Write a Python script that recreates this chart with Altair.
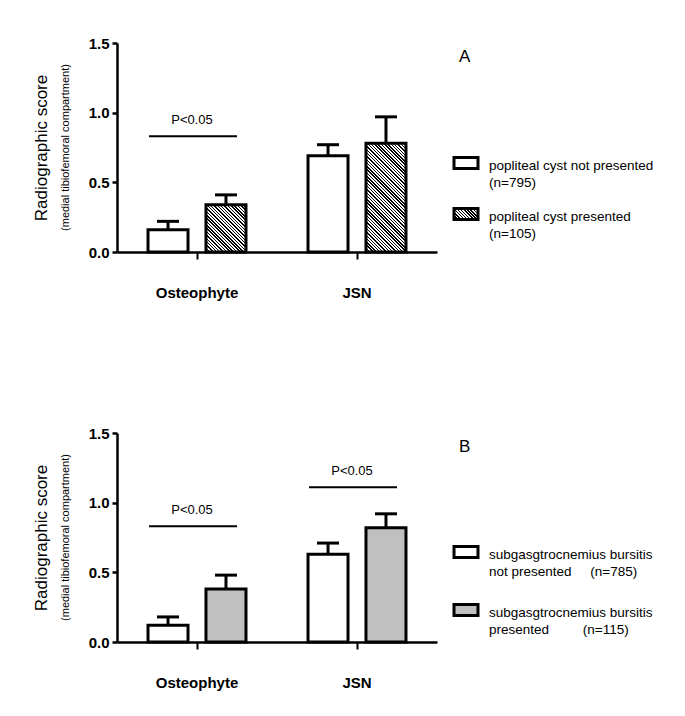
import altair as alt
import pandas as pd

# ---------------- data ----------------
groups = ["Osteophyte", "JSN"]
series = ["not presented", "presented"]

a_not = [0.16, 0.69]
a_not_err = [0.22, 0.77]
a_pres = [0.34, 0.78]
a_pres_err = [0.41, 0.97]

b_not = [0.12, 0.63]
b_not_err = [0.18, 0.71]
b_pres = [0.38, 0.82]
b_pres_err = [0.48, 0.92]

a_sig_groups = ["Osteophyte"]
a_sig_y = [0.83]
b_sig_groups = ["Osteophyte", "JSN"]
b_sig_y = [0.83, 1.11]
sig_label = "P<0.05"

NB = "\u00a0"
a_legend = ["popliteal cyst not presented\n(n=795)",
            "popliteal cyst presented\n(n=105)"]
b_legend = ["subgasgtrocnemius bursitis\nnot presented" + NB * 5 + "(n=785)",
            "subgasgtrocnemius bursitis\npresented" + NB * 9 + "(n=115)"]

y_title = "Radiographic score"
y_subtitle = "(medial tibiofemoral compartment)"
y_ticks = [0, 0.5, 1.0, 1.5]
y_max = 1.5

# ---------------- style ----------------
FONT = "Liberation Sans"
W, H = 320, 209
BAR_W = 40
GRAY = "#c0c0c0"


def hatch(w, h, period=3.3, ink=0.45):
    n = max(1, round((w + h) / period))
    a = (w + h) / (w * w + h * h)
    stops = []
    for k in range(n):
        s0 = min(1.0, k / n)
        s1 = min(1.0, (k + ink) / n)
        s2 = min(1.0, (k + 1) / n)
        stops += [("black", s0), ("black", s1), ("white", s1), ("white", s2)]
    return alt.LinearGradient(
        gradient="linear", x1=0, y1=1, x2=a * w, y2=1 - a * h,
        stops=[alt.GradientStop(color=c, offset=o) for c, o in stops],
    )


y_scale = alt.Scale(domain=[0, y_max], nice=False, zero=True)
y_axis = alt.Axis(values=y_ticks, format=".1f", labelFont=FONT, labelFontWeight="bold",
                  labelFontSize=15, labelColor="black", labelPadding=3, tickSize=5,
                  tickWidth=2.5, tickColor="black", domainColor="black", domainWidth=2.5,
                  grid=False, titleFont=FONT, titleFontSize=17, titleFontWeight="normal",
                  titleColor="black", titlePadding=38)
x_axis = alt.Axis(labelAngle=0, labelFont=FONT, labelFontWeight="bold", labelFontSize=15,
                  labelColor="black", labelPadding=26, tickSize=7, tickWidth=2,
                  tickColor="black", domainColor="black", domainWidth=2.5, grid=False)

x_enc = alt.X("group:N", sort=groups,
              scale=alt.Scale(domain=groups, paddingInner=0, paddingOuter=0),
              axis=x_axis, title=None)
xo_enc = alt.XOffset("series:N", sort=series,
                     scale=alt.Scale(domain=series, paddingInner=0.31, paddingOuter=0.535))


def yq(field):
    return alt.Y(field, scale=y_scale, axis=y_axis, title=y_title)


SW_PATH = "M-1,-0.46L1,-0.46L1,0.46L-1,0.46Z"


def panel(v_not, e_not, v_pres, e_pres, sig_groups, sig_y, hatched, legend_labels,
          letter, leg_range):
    df = pd.DataFrame({
        "group": groups * 2,
        "series": [series[0]] * len(groups) + [series[1]] * len(groups),
        "value": v_not + v_pres,
        "err": e_not + e_pres,
    })
    base = alt.Chart(df).encode(x=x_enc, xOffset=xo_enc)
    err_rule = base.mark_rule(color="black", strokeWidth=3).encode(y=yq("value:Q"), y2="err:Q")
    err_cap = base.mark_tick(color="black", size=22, thickness=3, orient="horizontal",
                             opacity=1).encode(y=yq("err:Q"))
    bars = [base.transform_filter(alt.datum.series == series[0])
            .mark_bar(fill="white", stroke="black", strokeWidth=3).encode(y=yq("value:Q"))]
    if hatched:
        for g, v in zip(groups, v_pres):
            bars.append(
                base.transform_filter((alt.datum.series == series[1]) & (alt.datum.group == g))
                .mark_bar(fill=hatch(BAR_W, v * H / y_max), stroke="black", strokeWidth=3)
                .encode(y=yq("value:Q")))
    else:
        bars.append(base.transform_filter(alt.datum.series == series[1])
                    .mark_bar(fill=GRAY, stroke="black", strokeWidth=3).encode(y=yq("value:Q")))

    sig_df = pd.DataFrame({"group": sig_groups, "y": sig_y,
                           "label": [sig_label] * len(sig_groups)})
    sig_line = alt.Chart(sig_df).mark_tick(color="black", size=88, thickness=2,
                                           orient="horizontal", xOffset=-4, opacity=1).encode(
        x=x_enc, y=yq("y:Q"))
    sig_text = alt.Chart(sig_df).mark_text(font=FONT, fontSize=13, dy=-16, dx=-5,
                                           color="black").encode(
        x=x_enc, y=yq("y:Q"), text="label:N")
    sub = alt.Chart(pd.DataFrame({"t": [y_subtitle]})).mark_text(
        angle=270, font=FONT, fontSize=11, color="black", baseline="middle").encode(
        x=alt.value(-51), y=alt.value(H / 2), text="t:N")

    plot = alt.layer(err_rule, err_cap, *bars, sig_line, sig_text, sub).properties(
        width=W, height=H)

    # legend panel
    leg_df = pd.DataFrame({"series": series, "label": legend_labels})
    ly = alt.Y("series:N", sort=series,
               scale=alt.Scale(type="point", domain=series, range=leg_range, padding=0),
               axis=None)
    fills = ["white", hatch(24, 11, period=3.2) if hatched else GRAY]
    sw = []
    for s, f in zip(series, fills):
        sw.append(alt.Chart(leg_df).transform_filter(alt.datum.series == s)
                  .mark_point(shape=SW_PATH, size=576, filled=True, fill=f, stroke="black",
                              strokeWidth=3, opacity=1)
                  .encode(x=alt.value(19), y=ly))
    txt = alt.Chart(leg_df).mark_text(font=FONT, fontSize=13.5, align="left",
                                      baseline="middle", lineBreak="\n", lineHeight=16.5,
                                      dy=3, color="black").encode(
        x=alt.value(42), y=ly, text="label:N")
    let = alt.Chart(pd.DataFrame({"t": [letter]})).mark_text(
        font=FONT, fontSize=17, align="left", baseline="middle", color="black").encode(
        x=alt.value(12), y=alt.value(14), text="t:N")
    legend = alt.layer(let, *sw, txt).properties(width=205, height=H)
    return alt.hconcat(plot, legend, spacing=10)


row_a = panel(a_not, a_not_err, a_pres, a_pres_err, a_sig_groups, a_sig_y, True,
              a_legend, "A", [120, 171])
row_b = panel(b_not, b_not_err, b_pres, b_pres_err, b_sig_groups, b_sig_y, False,
              b_legend, "B", [119, 177])

chart = alt.vconcat(row_a, row_b, spacing=126).properties(
    padding={"left": 24, "top": 28, "right": 5, "bottom": 5}
).configure(font=FONT, background="white").configure_view(strokeWidth=0, stroke="transparent")

chart.save("out.html", embed_options={"renderer": "svg", "actions": False})
